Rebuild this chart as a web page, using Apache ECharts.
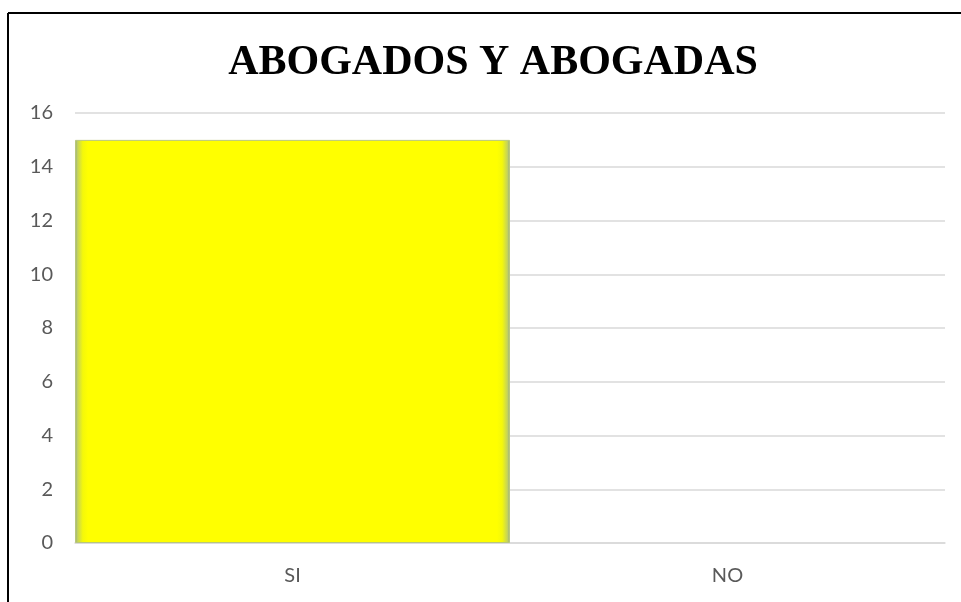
<!DOCTYPE html>
<html><head><meta charset="utf-8">
<script src="https://cdn.jsdelivr.net/npm/echarts@6/dist/echarts.min.js"></script>
<style>html,body{margin:0;padding:0;background:#fff}#c{width:961px;height:602px}</style>
</head><body><div id="c"></div>
<script>
const titleText = "ABOGADOS Y ABOGADAS";
const categories = ["SI", "NO"];
const values = [15, 0];
const yTicks = [0, 2, 4, 6, 8, 10, 12, 14, 16];

const barFill = new echarts.graphic.LinearGradient(0, 0, 1, 0, [
  {offset: 0, color: '#8fa88e'}, {offset: 0.006, color: '#c5d35a'}, {offset: 0.018, color: '#f4f80a'},
  {offset: 0.03, color: '#ffff00'}, {offset: 0.97, color: '#ffff00'},
  {offset: 0.982, color: '#f4f80a'}, {offset: 0.994, color: '#c5d35a'}, {offset: 1, color: '#8fa88e'}
]);

const chart = echarts.init(document.getElementById('c'), null, {renderer: 'canvas'});
chart.setOption({
  backgroundColor: '#ffffff',
  animation: false,
  title: {
    text: titleText,
    left: 488, top: 37, textAlign: 'center',
    textStyle: {fontFamily: 'Liberation Serif', fontWeight: 'bold', fontSize: 42, color: '#000000'}
  },
  graphic: [
    {type: 'line', shape: {x1: 8, y1: 13, x2: 961, y2: 13}, style: {stroke: '#000', lineWidth: 2}},
    {type: 'line', shape: {x1: 8, y1: 13, x2: 8, y2: 602}, style: {stroke: '#000', lineWidth: 2}}
  ],
  grid: {left: 75, right: 16, top: 113, bottom: 59, containLabel: false},
  xAxis: {
    type: 'category', data: categories,
    axisLine: {show: true, lineStyle: {color: '#d9d9d9', width: 1.5}},
    axisTick: {show: false},
    axisLabel: {color: '#595959', fontSize: 20, fontFamily: 'Lato', margin: 23}
  },
  yAxis: {
    type: 'value', min: 0, max: 16, interval: 2,
    axisLine: {show: false}, axisTick: {show: false},
    splitLine: {lineStyle: {color: '#d9d9d9', width: 1.5}},
    axisLabel: {color: '#595959', fontSize: 20, fontFamily: 'Lato', margin: 22,
      formatter: v => yTicks.includes(v) ? String(v) : ''}
  },
  series: [{
    type: 'bar', barWidth: '100%',
    data: values.map(v => ({value: v, itemStyle: v > 0 ? {borderColor: '#b9c77a', borderWidth: 1} : {borderWidth: 0}})),
    itemStyle: {color: barFill}
  }]
});
</script></body></html>
